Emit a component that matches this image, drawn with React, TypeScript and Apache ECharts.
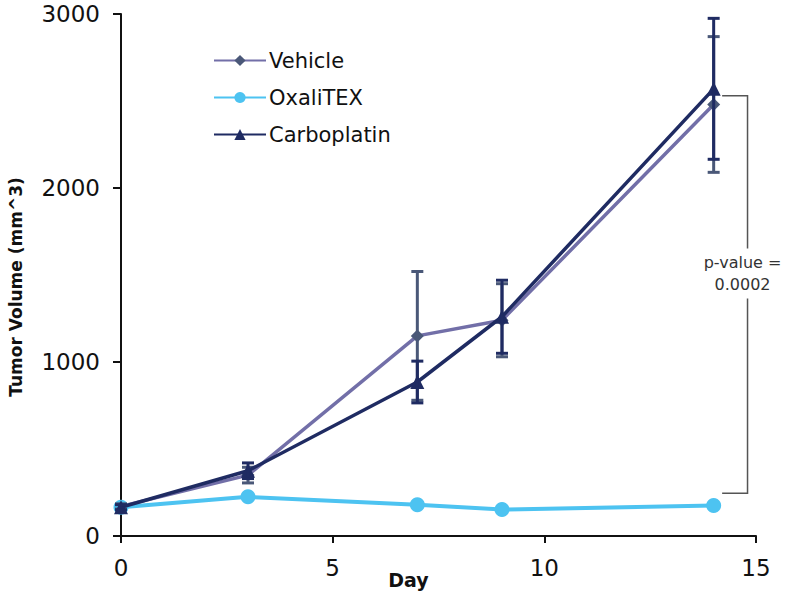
import React, { useEffect, useRef } from "react";
import * as echarts from "echarts";

const days = [0, 3, 7, 9, 14];
const vehicle = [170, 350, 1150, 1240, 2480];
const vehicleErr = [15, 45, 370, 210, 390];
const oxali = [165, 225, 180, 152, 175];
const carbo = [165, 375, 885, 1260, 2570];
const carboErr = [15, 45, 120, 210, 405];
const xTicks = [0, 5, 10, 15];
const yTicks = [0, 1000, 2000, 3000];
const bracketDays = [14.2, 14.8];
const bracketValues = [2530, 245];
const pValueLabel = "p-value =\n0.0002";

const FONT = "DejaVu Sans";

function errData(vals: number[], errs: number[]) {
  return days.map((d, i) => [d, vals[i] - errs[i], vals[i] + errs[i]]);
}

function errSeries(name: string, vals: number[], errs: number[], color: string, z: number) {
  return {
    type: "custom",
    name: name + "-err",
    z,
    silent: true,
    data: errData(vals, errs),
    renderItem: (params: any, api: any) => {
      const x = api.value(0);
      const lo = api.coord([x, api.value(1)]);
      const hi = api.coord([x, api.value(2)]);
      const half = 6;
      const st = { stroke: color, lineWidth: 3 };
      return {
        type: "group",
        children: [
          { type: "line", shape: { x1: lo[0], y1: lo[1], x2: hi[0], y2: hi[1] }, style: st },
          { type: "line", shape: { x1: lo[0] - half, y1: lo[1], x2: lo[0] + half, y2: lo[1] }, style: st },
          { type: "line", shape: { x1: hi[0] - half, y1: hi[1], x2: hi[0] + half, y2: hi[1] }, style: st },
        ],
      };
    },
  };
}

export default function App() {
  const ref = useRef<HTMLDivElement>(null);
  useEffect(() => {
    if (!ref.current) return;
    const chart = echarts.init(ref.current, undefined, { renderer: "svg" });
    const vehLine = "#726fa8";
    const vehMark = "#4a5878";
    const oxColor = "#4dc3f1";
    const carbColor = "#1f2b62";
    chart.setOption({
      animation: false,
      backgroundColor: "#ffffff",
      textStyle: { fontFamily: FONT },
      grid: { left: 121, right: 31, top: 14, bottom: 60, containLabel: false, outerBoundsMode: "none" },
      legend: {
        orient: "vertical",
        left: 208,
        top: 45,
        itemWidth: 52,
        itemHeight: 14,
        itemGap: 16,
        data: ["Vehicle", "OxaliTEX", "Carboplatin"],
        textStyle: { fontFamily: FONT, fontSize: 21, color: "#111", padding: [0, 0, 0, -2] },
      },
      xAxis: {
        type: "value",
        min: xTicks[0],
        max: xTicks[xTicks.length - 1],
        interval: 5,
        name: "Day",
        nameLocation: "middle",
        nameGap: 34,
        nameMoveOverlap: false,
        nameTextStyle: { fontFamily: FONT, fontSize: 19, fontWeight: "bold", color: "#111", padding: [0, 60, 0, 0] },
        axisLine: { show: true, lineStyle: { color: "#111", width: 2 } },
        axisTick: { show: true, length: 7, inside: false, lineStyle: { color: "#111", width: 2 } },
        axisLabel: { fontFamily: FONT, fontSize: 23, color: "#111", margin: 20, formatter: (v: number) => String(v) },
        splitLine: { show: false },
      },
      yAxis: {
        type: "value",
        min: yTicks[0],
        max: yTicks[yTicks.length - 1],
        interval: 1000,
        name: "Tumor Volume (mm^3)",
        nameLocation: "middle",
        nameGap: 97,
        nameMoveOverlap: false,
        nameTextStyle: { fontFamily: FONT, fontSize: 17, fontWeight: "bold", color: "#111", padding: [0, 24, 0, 0] },
        axisLine: { show: true, lineStyle: { color: "#111", width: 2 } },
        axisTick: { show: true, length: 8, lineStyle: { color: "#111", width: 2 } },
        axisLabel: { fontFamily: FONT, fontSize: 23, color: "#111", margin: 21, formatter: (v: number) => String(v) },
        splitLine: { show: false },
      },
      series: [
        {
          type: "custom",
          name: "bracket",
          silent: true,
          z: 1,
          data: [[bracketDays[0], bracketDays[1], bracketValues[0], bracketValues[1]]],
          renderItem: (params: any, api: any) => {
            const tl = api.coord([api.value(0), api.value(2)]);
            const tr = api.coord([api.value(1), api.value(2)]);
            const br = api.coord([api.value(1), api.value(3)]);
            const bl = api.coord([api.value(0), api.value(3)]);
            const midY = (tr[1] + br[1]) / 2;
            return {
              type: "group",
              children: [
                {
                  type: "polyline",
                  shape: { points: [tl, tr, br, bl] },
                  style: { stroke: "#555", lineWidth: 1.5, fill: "none" },
                },
                {
                  type: "text",
                  x: tr[0] - 5,
                  y: midY - 21,
                  style: {
                    text: pValueLabel,
                    fontFamily: FONT,
                    fontSize: 16,
                    fill: "#333",
                    align: "center",
                    verticalAlign: "middle",
                    lineHeight: 22,
                    backgroundColor: "#fff",
                    padding: [3, 2, 3, 2],
                  },
                },
              ],
            };
          },
        },
        errSeries("Vehicle", vehicle, vehicleErr, vehMark, 3),
        errSeries("Carboplatin", carbo, carboErr, carbColor, 5),
        {
          type: "line",
          name: "Vehicle",
          z: 2,
          data: days.map((d, i) => [d, vehicle[i]]),
          symbol: "diamond",
          symbolSize: 13,
          lineStyle: { color: vehLine, width: 3.5 },
          itemStyle: { color: vehMark },
        },
        {
          type: "line",
          name: "OxaliTEX",
          z: 2,
          data: days.map((d, i) => [d, oxali[i]]),
          symbol: "circle",
          symbolSize: 15,
          lineStyle: { color: oxColor, width: 4 },
          itemStyle: { color: oxColor },
        },
        {
          type: "line",
          name: "Carboplatin",
          z: 4,
          data: days.map((d, i) => [d, carbo[i]]),
          symbol: "triangle",
          symbolSize: 14,
          lineStyle: { color: carbColor, width: 3.5 },
          itemStyle: { color: carbColor },
        },
      ],
    });
    return () => chart.dispose();
  }, []);
  return <div ref={ref} style={{ position: "fixed", left: 0, top: 0, width: 787, height: 596 }} />;
}
